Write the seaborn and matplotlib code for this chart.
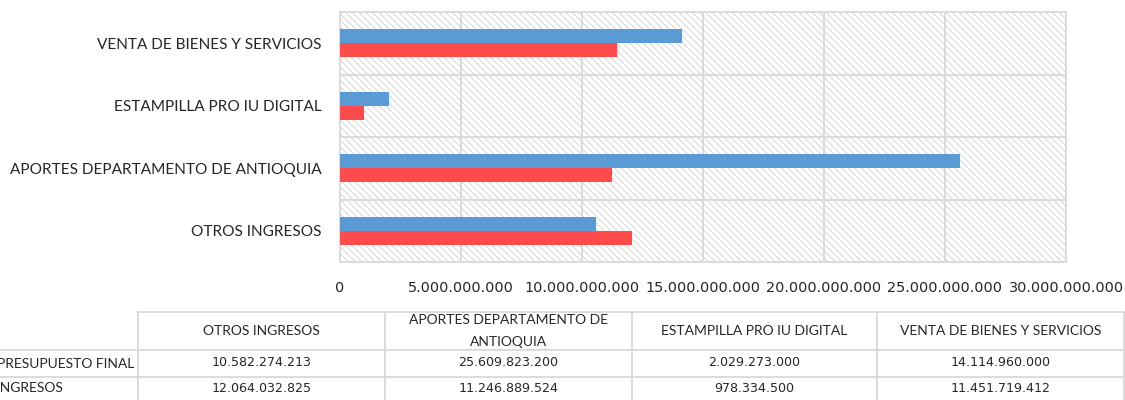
"""Presupuesto final vs ingresos por concepto: barras horizontales con tabla de datos."""

import matplotlib

matplotlib.use("Agg")
import matplotlib.pyplot as plt
import pandas as pd
import seaborn as sns
from matplotlib.patches import Rectangle

categories = [
    "OTROS INGRESOS",
    "APORTES DEPARTAMENTO DE ANTIOQUIA",
    "ESTAMPILLA PRO IU DIGITAL",
    "VENTA DE BIENES Y SERVICIOS",
]
presupuesto_final = [10582274213, 25609823200, 2029273000, 14114960000]
ingresos = [12064032825, 11246889524, 978334500, 11451719412]
series_names = ["PRESUPUESTO FINAL", "INGRESOS"]
x_ticks = [0, 5e9, 10e9, 15e9, 20e9, 25e9, 30e9]

BLUE = "#5B9BD5"
RED = "#FF4B4B"
GRID = "#D9D9D9"
TEXT = "#262626"
NUM_FONT = ["DejaVu Sans"]
W, H = 1125, 400


def fmt(v):
    return f"{int(v):,}".replace(",", ".")


sns.set_theme(style="white")
plt.rcParams["font.family"] = ["Lato", "DejaVu Sans"]
plt.rcParams["hatch.linewidth"] = 0.7

df = pd.DataFrame({
    "categoria": categories * 2,
    "serie": [series_names[0]] * 4 + [series_names[1]] * 4,
    "valor": presupuesto_final + ingresos,
})
order = categories[::-1]  # chart shows last category on top

fig = plt.figure(figsize=(W / 100, H / 100), dpi=100)
ax = fig.add_axes([340 / W, 1 - 262 / H, 726 / W, 250 / H])

# hatched plot-area background
ax.add_patch(Rectangle((0, 0), 1, 1, transform=ax.transAxes, facecolor="white",
                       edgecolor="#D6D6D6", hatch="\\\\\\\\\\", lw=0, zorder=0))

sns.barplot(data=df, y="categoria", x="valor", hue="serie", order=order,
            hue_order=series_names, palette=[BLUE, RED], orient="h",
            width=0.45, linewidth=0, saturation=1, legend=False, ax=ax, zorder=3)

ax.set_xlim(0, 30e9)
ax.set_ylim(len(order) - 0.5, -0.5)
ax.set_xticks(x_ticks)
ax.set_xticklabels([fmt(v) for v in x_ticks], family=NUM_FONT)
ax.set_yticks(range(len(order)))
ax.set_yticks([i - 0.5 for i in range(len(order) + 1)], minor=True)
ax.tick_params(axis="x", length=0, pad=14, labelsize=10.4, labelcolor=TEXT)
ax.tick_params(axis="y", which="major", length=0, pad=13, labelsize=11.1,
               labelcolor=TEXT)
ax.tick_params(axis="y", which="minor", length=6, width=1.2, color=GRID)
ax.set_xlabel("")
ax.set_ylabel("")
for x in x_ticks[1:-1]:
    ax.axvline(x, color=GRID, lw=1.3, zorder=1)
for y in range(len(order) - 1):
    ax.axhline(y + 0.5, color=GRID, lw=1.3, zorder=1)
for s in ax.spines.values():
    s.set_color(GRID)
    s.set_linewidth(1.3)

# data table under the chart (pixel coordinates)
tab = fig.add_axes([0, 0, 1, 1], zorder=-1)
tab.set_xlim(0, W)
tab.set_ylim(H, 0)
tab.axis("off")
col_x = [138, 385, 632, 877, 1124]
row_y = [312, 350, 377, 400]
lk = dict(color=GRID, lw=1.3)
tab.plot([col_x[0], col_x[-1]], [row_y[0], row_y[0]], **lk)
for y in row_y[1:3]:
    tab.plot([0, col_x[-1]], [y, y], **lk)
for x in col_x:
    tab.plot([x, x], [row_y[0], H], **lk)

tfs = 10
headers = ["OTROS INGRESOS", "APORTES DEPARTAMENTO DE\nANTIOQUIA",
           "ESTAMPILLA PRO IU DIGITAL", "VENTA DE BIENES Y SERVICIOS"]
for i, name in enumerate(headers):
    cx = (col_x[i] + col_x[i + 1]) / 2
    lines = name.split("\n")
    if len(lines) == 2:
        for ly, part in zip([320, 342], lines):
            tab.text(cx, ly, part, ha="center", va="center", fontsize=tfs,
                     color=TEXT)
    else:
        tab.text(cx, (row_y[0] + row_y[1]) / 2, name, ha="center",
                 va="center", fontsize=tfs, color=TEXT)
    for r, vals in enumerate([presupuesto_final, ingresos]):
        tab.text(cx, (row_y[r + 1] + row_y[r + 2]) / 2 - 0.5, fmt(vals[i]),
                 ha="center", va="center", fontsize=9.1, color=TEXT,
                 family=NUM_FONT)
# row labels run off the left edge, as in the source (legend keys cropped)
for r, name in enumerate(series_names):
    tab.text(-3, (row_y[r + 1] + row_y[r + 2]) / 2, name, ha="left",
             va="center", fontsize=tfs, color=TEXT)

fig.savefig("out.png", dpi=100)
